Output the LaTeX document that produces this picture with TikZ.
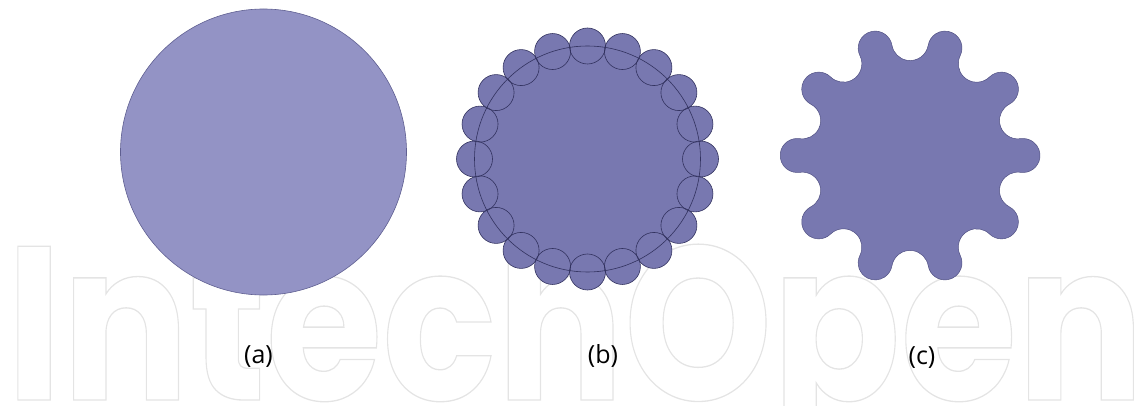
\documentclass[tikz,border=0pt]{standalone}
\usepackage{fontspec}
\setsansfont{Open Sans}
\newfontfamily\wmfont{Poppins}
\usetikzlibrary{calc}
\definecolor{fillA}{RGB}{147,147,197}
\definecolor{lineA}{RGB}{95,95,145}
\definecolor{fillB}{RGB}{120,120,176}
\definecolor{lineB}{RGB}{50,50,95}
\definecolor{wmgray}{RGB}{228,228,228}
\begin{document}
\begin{tikzpicture}[x=1pt,y=1pt,
  caption/.style={font=\sffamily\fontsize{25}{29}\selectfont, inner sep=0pt},
  ring/.style={draw=lineB, line width=0.6pt}]
\useasboundingbox (0,0) rectangle (1144,405);
% watermark
\begin{scope}
\clip (0,0) rectangle (1144,405);
\node[anchor=base west, inner sep=0pt] (wm) at (6,5)
  {\color{wmgray}\resizebox{1138pt}{162pt}{\fontsize{150}{150}\wmfont\bfseries\special{pdf:literal direct 1 Tr 0.9 w}IntechOpen\special{pdf:literal direct 0 Tr}}};
\end{scope}
% (a)
\node[circle, minimum size=286pt, inner sep=0pt, fill=fillA, draw=lineA, line width=0.6pt] (A) at (263.5,253) {};
% (b)
\coordinate (B) at (587.5,246);
\fill[fillB] (B) circle[radius=113pt];
\foreach \i in {0,...,19}
  \fill[fillB] ($(B)+(\i*18:113pt)$) circle[radius=18pt];
\draw[ring] (B) circle[radius=113pt];
\foreach \i in {0,...,19}
  \draw[ring] ($(B)+(\i*18:113pt)$) circle[radius=18pt];
% (c)
\coordinate (C) at (910,249.5);
\filldraw[fill=fillB, draw=lineB!55!fillB, line width=0.5pt, shift={(C)}]
  (110.53pt,-16.82pt)
  \foreach \a in {0,36,...,324} {
    arc[start angle=\a-98.36, end angle=\a+98.36, radius=17pt]
    arc[start angle=\a-81.64, end angle=\a-242.36, radius=18.4pt]
  } -- cycle;
% labels
\node[caption] (la) at (258.5,48) {(a)};
\node[caption] (lb) at (603,49) {(b)};
\node[caption] (lc) at (922,47) {(c)};
\end{tikzpicture}
\end{document}
